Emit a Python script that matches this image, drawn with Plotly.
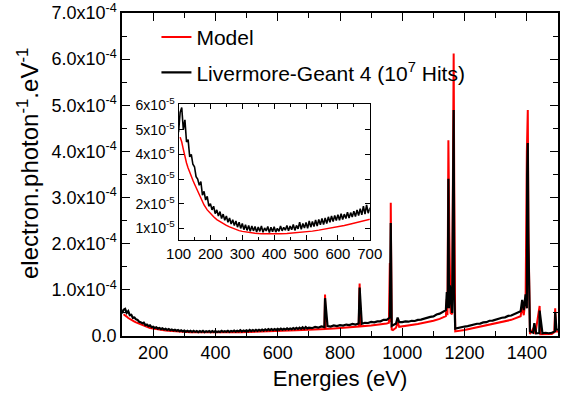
import plotly.graph_objects as go

SCALE = 1e-5  # values below are in units of 1e-5 electron.photon^-1.eV^-1

# ---- Livermore-Geant4 (black) : background on a regular grid ----
g4_grid_energy = list(range(100, 701, 5)) + list(range(710, 1501, 10))
g4_grid_signal = [
    4.9, 5.7, 5.9, 5.0, 5.4, 4.5, 4.6, 3.9, 4.0, 3.6,
    3.5, 3.1, 3.0, 2.75, 2.9, 2.35, 2.5, 2.15, 2.3, 1.9,
    2.0, 1.75, 1.9, 1.6, 1.75, 1.5, 1.68, 1.4, 1.58, 1.33,
    1.5, 1.25, 1.42, 1.18, 1.35, 1.12, 1.3, 1.05, 1.25, 1.0,
    1.2, 0.95, 1.15, 0.92, 1.12, 0.88, 1.1, 0.9, 1.08, 0.85,
    1.06, 0.88, 1.1, 0.84, 1.02, 0.9, 1.08, 0.83, 1.05, 0.86,
    1.07, 0.85, 1.0, 0.88, 1.1, 0.9, 1.04, 0.93, 1.12, 0.9,
    1.1, 0.95, 1.16, 0.92, 1.12, 0.98, 1.25, 0.96, 1.2, 1.02,
    1.24, 1.0, 1.3, 1.05, 1.28, 1.08, 1.34, 1.1, 1.36, 1.15,
    1.4, 1.16, 1.42, 1.2, 1.47, 1.25, 1.5, 1.28, 1.52, 1.32,
    1.56, 1.33, 1.6, 1.36, 1.58, 1.4, 1.66, 1.42, 1.64, 1.46,
    1.7, 1.48, 1.75, 1.52, 1.8, 1.55, 1.9, 1.58, 1.95, 1.62,
    1.8,
    1.7, 1.95, 1.8, 2.08, 1.94, 2.16, 2.04, 2.28, 2.14, 2.36,
    2.26, 2.48, 2.36, 2.6, 2.46, 2.7, 2.66, 2.86, 2.82, 3.06,
    2.96, 3.18, 3.18, 3.5, 3.5, 4.0, 2.4, 2.7, 3.0, 3.0,
    3.15, 3.1, 3.3, 3.25, 3.5, 3.55, 3.8, 3.9, 4.15, 4.25,
    4.65, 4.85, 5.25, 5.6, 6.0, 5.0, 1.6, 1.8, 1.85, 2.05,
    2.15, 2.35, 2.4, 2.65, 2.7, 2.95, 3.0, 3.3, 3.35, 3.6,
    3.75, 3.95, 4.05, 4.35, 4.45, 4.75, 4.9, 5.35, 5.6, 6.0,
    1.0, 0.7, 0.6, 0.65, 0.6, 0.7, 0.6, 0.7, 1.0, 1.3,
]
# ---- Livermore-Geant4 (black) : Auger lines ----
g4_peak_energy = [752, 863, 963, 966, 985, 1143, 1146, 1148, 1153, 1165, 1167,
                  1385, 1396, 1398, 1401, 1403, 1405, 1407, 1424, 1441, 1491, 1495]
g4_peak_signal = [8.2, 10.5, 24.5, 2.2, 4.0, 9.5, 6.0, 34.1, 11.0, 49.0, 9.0,
                  7.8, 9.0, 7.0, 35.0, 41.8, 20.0, 8.0, 2.8, 5.5, 5.0, 1.5]

# ---- Model (red) ----
model_energy = [105, 110, 115, 120, 125, 130, 135, 140, 145, 150, 160, 170, 180, 190,
                200, 210, 220, 230, 240, 250, 260, 270, 280, 290, 300, 320, 340, 360,
                380, 400, 420, 440, 460, 480, 500, 520, 540, 560, 580, 600, 620, 640,
                660, 680, 700, 720, 740, 750, 752, 754, 780, 800, 830, 860, 863, 866,
                900, 930, 950, 957, 960, 962, 963, 966, 970, 980, 985, 990, 1000, 1050,
                1100, 1120, 1140, 1143, 1145, 1148, 1151, 1155, 1160, 1165, 1167, 1170,
                1200, 1250, 1300, 1350, 1380, 1385, 1390, 1396, 1400, 1403, 1405, 1408,
                1410, 1424, 1427, 1441, 1443, 1480, 1488, 1491, 1494, 1500]
model_signal = [4.7, 4.5, 4.2, 3.9, 3.65, 3.45, 3.25, 3.1, 2.95, 2.8, 2.5, 2.2, 1.95, 1.75,
                1.6, 1.47, 1.36, 1.27, 1.19, 1.12, 1.06, 1.0, 0.95, 0.91, 0.88, 0.83, 0.8, 0.78,
                0.77, 0.77, 0.78, 0.79, 0.81, 0.83, 0.86, 0.89, 0.93, 0.97, 1.02, 1.07, 1.12, 1.18,
                1.24, 1.3, 1.37, 1.42, 1.48, 1.52, 9.0, 1.54, 1.65, 1.75, 1.9, 2.05, 11.4, 2.1,
                2.3, 2.5, 2.7, 2.85, 15.8, 3.0, 28.9, 1.4, 1.3, 1.8, 3.0, 2.0, 2.1, 2.6,
                3.3, 3.7, 4.3, 8.0, 4.5, 42.4, 22.6, 5.0, 4.7, 61.2, 31.0, 1.0,
                1.3, 2.0, 2.7, 3.5, 4.3, 6.5, 4.5, 8.0, 39.9, 49.0, 23.7, 5.0,
                0.45, 2.0, 0.4, 6.5, 0.4, 0.45, 0.8, 6.0, 1.0, 1.0]

main_y_ticks = [0, 1e-4, 2e-4, 3e-4, 4e-4, 5e-4, 6e-4, 7e-4]
main_y_labels = ["0.0"] + [f"{k}.0x10<sup>-4</sup>" for k in range(1, 8)]
inset_y_ticks = [1e-5, 2e-5, 3e-5, 4e-5, 5e-5, 6e-5]
inset_y_labels = [f"{k}x10<sup>-5</sup>" for k in range(1, 7)]

# merge black grid + peaks
pairs = sorted(list(zip(g4_grid_energy, g4_grid_signal)) + list(zip(g4_peak_energy, g4_peak_signal)))
g4_energy = [p[0] for p in pairs]
g4_signal = [p[1] * SCALE for p in pairs]
model_y = [v * SCALE for v in model_signal]

FONT = "Liberation Sans, Arial, sans-serif"
RED = "#ff0000"
BLACK = "#000000"

fig = go.Figure()
fig.add_trace(go.Scatter(x=model_energy, y=model_y, mode="lines", name="Model",
                         legendgroup="a", line=dict(color=RED, width=2)))
fig.add_trace(go.Scatter(x=g4_energy, y=g4_signal, mode="lines",
                         name="Livermore-Geant 4 (10<sup>7</sup> Hits)", legendgroup="b",
                         line=dict(color=BLACK, width=2.2)))
# inset
fig.add_trace(go.Scatter(x=model_energy, y=model_y, mode="lines", showlegend=False,
                         line=dict(color=RED, width=1.5), xaxis="x2", yaxis="y2"))
fig.add_trace(go.Scatter(x=g4_energy, y=g4_signal, mode="lines", showlegend=False,
                         line=dict(color=BLACK, width=1.6), xaxis="x2", yaxis="y2"))

axis_common = dict(showline=True, linecolor="black", linewidth=1.5, mirror="allticks",
                   ticks="inside", tickcolor="black", showgrid=False, zeroline=False,
                   automargin=False)

fig.update_layout(
    width=569, height=402,
    margin=dict(l=122, r=11, t=13, b=66),
    paper_bgcolor="white", plot_bgcolor="white",
    font=dict(family=FONT, color="black"),
    showlegend=True,
    legend=dict(x=0.079, y=0.988, xanchor="left", yanchor="top",
                font=dict(size=21, family=FONT), bgcolor="rgba(0,0,0,0)",
                traceorder="grouped", tracegroupgap=5, itemwidth=30),
    xaxis=dict(range=[100, 1500], tickmode="linear", tick0=0, dtick=200,
               ticklen=8, tickwidth=1.3,
               minor=dict(dtick=100, tick0=0, ticks="inside", ticklen=5, tickwidth=1.3, tickcolor="black"),
               tickfont=dict(size=18, family=FONT),
               title=dict(text="Energies (eV)", font=dict(size=22, family=FONT), standoff=8),
               **axis_common),
    yaxis=dict(range=[0, 7e-4], tickmode="array", tickvals=main_y_ticks, ticktext=main_y_labels,
               ticklen=8, tickwidth=1.3,
               minor=dict(tickmode="array", tickvals=[0.5e-4, 1.5e-4, 2.5e-4, 3.5e-4, 4.5e-4, 5.5e-4, 6.5e-4],
                          ticks="inside", ticklen=5, tickwidth=1.3, tickcolor="black"),
               tickfont=dict(size=18, family=FONT),
               **axis_common),
    xaxis2=dict(domain=[0.1297, 0.5683], anchor="y2", range=[100, 700], tickmode="linear",
                tick0=0, dtick=100, ticklen=5, tickwidth=1,
                minor=dict(dtick=50, tick0=0, ticks="inside", ticklen=3, tickwidth=1, tickcolor="black"),
                tickfont=dict(size=15, family=FONT),
                showline=True, linecolor="black", linewidth=1.2, mirror="allticks",
                ticks="inside", tickcolor="black", showgrid=False, zeroline=False, automargin=False),
    yaxis2=dict(domain=[0.2972, 0.7173], anchor="x2", range=[0.53e-5, 6.03e-5],
                tickmode="array", tickvals=inset_y_ticks, ticktext=inset_y_labels,
                ticklen=5, tickwidth=1,
                tickfont=dict(size=14, family=FONT),
                showline=True, linecolor="black", linewidth=1.2, mirror="allticks",
                ticks="inside", tickcolor="black", showgrid=False, zeroline=False, automargin=False),
    annotations=[dict(text="electron.photon<sup>-1</sup>.eV<sup>-1</sup>", textangle=-90,
                      xref="paper", yref="paper", x=-0.216, y=0.535,
                      xanchor="center", yanchor="middle", showarrow=False,
                      font=dict(size=24, family=FONT))],
)

fig.write_html("out.html")
